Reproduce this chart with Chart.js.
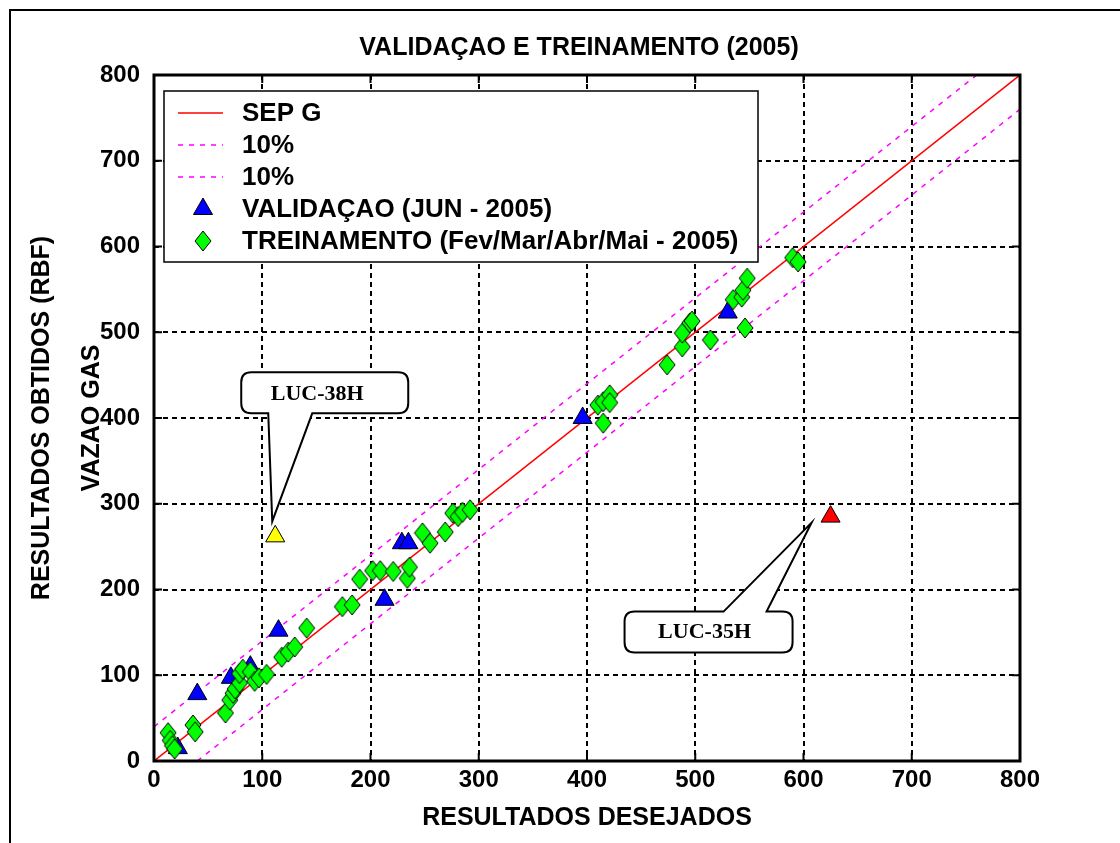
<!DOCTYPE html>
<html>
<head>
<meta charset="utf-8">
<script src="https://cdn.jsdelivr.net/npm/chart.js@4.4.1/dist/chart.umd.min.js"></script>
<style>
  html, body { margin: 0; padding: 0; background: #fff; }
  canvas { display: block; }
</style>
</head>
<body>
<canvas id="c" width="1120" height="843"></canvas>
<script>
// ---- data ----
const chartTitle = 'VALIDAÇAO E TREINAMENTO (2005)';
const xTitle = 'RESULTADOS DESEJADOS';
const yTitle = ['RESULTADOS OBTIDOS (RBF)', 'VAZAO GAS'];

// reference line and the two band limits (x, y pairs of their end points)
const sepX = [0, 800];
const sepY = [0, 800];
const upperX = [0, 760];
const upperY = [40, 800];
const lowerX = [40, 800];
const lowerY = [0, 760];

// validation wells, June 2005
const valX = [22, 40, 71, 89, 115, 213, 229, 235, 396, 530];
const valY = [15, 78, 97, 110, 152, 188, 254, 254, 400, 523];

// training set, Feb-May 2005
const trainX = [13, 15, 17, 19, 36, 38, 66, 70, 73, 75, 79, 79, 82, 89, 93, 97, 104, 118, 124, 130, 141,
                174, 183, 190, 202, 209, 221, 234, 236, 248, 255, 269, 276, 281, 285, 292,
                410, 415, 421, 421, 415,
                474, 488, 488, 495, 497, 514, 535, 543, 544, 548, 546, 590, 595];
const trainY = [33, 24, 18, 14, 42, 34, 56, 71, 79, 84, 91, 102, 107, 104, 93, 97, 101, 121, 127, 133, 155,
                180, 182, 212, 222, 222, 221, 213, 226, 266, 254, 267, 289, 285, 290, 293,
                415, 419, 427, 418, 394,
                462, 483, 499, 511, 513, 491, 538, 541, 549, 563, 505, 587, 582];

// highlighted wells
const luc38X = [112];
const luc38Y = [262];
const luc35X = [625];
const luc35Y = [285];

const xTicks = [0, 100, 200, 300, 400, 500, 600, 700, 800];
const yTicks = [0, 100, 200, 300, 400, 500, 600, 700, 800];

// ---- helpers ----
const SANS = "'Liberation Sans', Arial, sans-serif";
const SERIF = "'Liberation Serif', 'Times New Roman', serif";

const pts = (xs, ys) => xs.map((x, i) => ({ x, y: ys[i] }));

// taller-than-wide diamond marker
function diamondMarker() {
  const c = document.createElement('canvas');
  c.width = 18; c.height = 22;
  const g = c.getContext('2d');
  g.beginPath();
  g.moveTo(9, 1); g.lineTo(17, 11); g.lineTo(9, 21); g.lineTo(1, 11); g.closePath();
  g.fillStyle = '#00ff00'; g.fill();
  g.lineWidth = 1; g.strokeStyle = '#000'; g.stroke();
  return c;
}
const diamond = diamondMarker();

// ---- plugins ----
const pagePlugin = {
  id: 'page',
  beforeDraw(chart) {
    const { ctx, width, height } = chart;
    ctx.save();
    ctx.fillStyle = '#fff';
    ctx.fillRect(0, 0, width, height);
    ctx.strokeStyle = '#000';
    ctx.lineWidth = 2;
    ctx.strokeRect(10, 10, width + 20, height + 20);
    ctx.restore();
  },
  afterDraw(chart) {
    const { ctx, chartArea: ca } = chart;
    ctx.save();
    ctx.fillStyle = '#000';
    ctx.font = `bold 25px ${SANS}`;
    ctx.textAlign = 'center';
    ctx.textBaseline = 'middle';
    ctx.fillText(chartTitle, (ca.left + ca.right) / 2 - 8, 48);
    ctx.restore();
  }
};

const framePlugin = {
  id: 'frame',
  afterDatasetsDraw(chart) {
    const { ctx, chartArea: ca, scales } = chart;
    ctx.save();
    ctx.strokeStyle = '#000';
    ctx.lineWidth = 2;
    const tl = 8;
    ctx.beginPath();
    scales.x.ticks.forEach(t => {
      const px = scales.x.getPixelForValue(t.value);
      ctx.moveTo(px, ca.top); ctx.lineTo(px, ca.top + tl);
      ctx.moveTo(px, ca.bottom); ctx.lineTo(px, ca.bottom - tl);
    });
    scales.y.ticks.forEach(t => {
      const py = scales.y.getPixelForValue(t.value);
      ctx.moveTo(ca.left, py); ctx.lineTo(ca.left + tl, py);
      ctx.moveTo(ca.right, py); ctx.lineTo(ca.right - tl, py);
    });
    ctx.stroke();
    ctx.lineWidth = 3;
    ctx.strokeRect(ca.left, ca.top, ca.right - ca.left, ca.bottom - ca.top);
    ctx.restore();
  }
};

const legendPlugin = {
  id: 'boxLegend',
  afterDatasetsDraw(chart) {
    const { ctx, chartArea: ca } = chart;
    const x0 = ca.left + 10, y0 = ca.top + 16, w = 594, h = 171;
    ctx.save();
    ctx.fillStyle = '#fff';
    ctx.fillRect(x0, y0, w, h);
    ctx.strokeStyle = '#000';
    ctx.lineWidth = 1.5;
    ctx.strokeRect(x0, y0, w, h);
    chart.data.datasets.forEach(ds => {
      if (ds.legendRow === undefined) return;
      const y = y0 + 22 + ds.legendRow * 32;
      if (ds.showLine) {
        ctx.save();
        ctx.strokeStyle = ds.borderColor;
        ctx.lineWidth = ds.borderWidth;
        ctx.setLineDash(ds.borderDash || []);
        ctx.beginPath();
        ctx.moveTo(x0 + 14, y); ctx.lineTo(x0 + 59, y);
        ctx.stroke();
        ctx.restore();
      } else {
        ctx.save();
        ctx.fillStyle = ds.backgroundColor;
        ctx.strokeStyle = ds.borderColor;
        ctx.lineWidth = ds.borderWidth;
        Chart.helpers.drawPoint(ctx, { pointStyle: ds.pointStyle, radius: ds.pointRadius, rotation: 0, borderWidth: ds.borderWidth }, x0 + 39, y);
        ctx.restore();
      }
      ctx.fillStyle = '#000';
      ctx.font = `bold 26px ${SANS}`;
      ctx.textAlign = 'left';
      ctx.textBaseline = 'middle';
      ctx.fillText(ds.label, x0 + 78, y + 1);
    });
    ctx.restore();
  }
};

// rounded callout boxes pointing at the highlighted wells
const calloutPlugin = {
  id: 'callouts',
  afterDraw(chart) {
    const { ctx } = chart;
    chart.data.datasets.forEach((ds, i) => {
      if (!ds.callout) return;
      const p = chart.getDatasetMeta(i).data[0];
      const c = ds.callout;
      const L = p.x + c.box[0], T = p.y + c.box[1], R = p.x + c.box[2], B = p.y + c.box[3];
      const r = 10;
      const onTop = c.side === 'top';
      const a = p.x + c.base[0], bb = p.x + c.base[1];
      const tipX = p.x + c.tip[0], tipY = p.y + c.tip[1];
      ctx.save();
      ctx.beginPath();
      ctx.moveTo(L + r, T);
      if (onTop) {
        ctx.lineTo(a, T); ctx.lineTo(tipX, tipY); ctx.lineTo(bb, T);
      }
      ctx.lineTo(R - r, T);
      ctx.quadraticCurveTo(R, T, R, T + r);
      ctx.lineTo(R, B - r);
      ctx.quadraticCurveTo(R, B, R - r, B);
      if (!onTop) {
        ctx.lineTo(bb, B); ctx.lineTo(tipX, tipY); ctx.lineTo(a, B);
      }
      ctx.lineTo(L + r, B);
      ctx.quadraticCurveTo(L, B, L, B - r);
      ctx.lineTo(L, T + r);
      ctx.quadraticCurveTo(L, T, L + r, T);
      ctx.closePath();
      ctx.fillStyle = '#fff';
      ctx.fill();
      ctx.strokeStyle = '#000';
      ctx.lineWidth = 2;
      ctx.stroke();
      ctx.fillStyle = '#000';
      ctx.font = `bold 22px ${SERIF}`;
      ctx.textAlign = 'center';
      ctx.textBaseline = 'middle';
      ctx.fillText(ds.label, p.x + c.text[0], p.y + c.text[1]);
      ctx.restore();
    });
  }
};

// ---- chart ----
new Chart(document.getElementById('c'), {
  type: 'scatter',
  data: {
    datasets: [
      { label: 'SEP G', data: pts(sepX, sepY), showLine: true, pointRadius: 0,
        borderColor: '#ff0000', borderWidth: 1.5, order: 12, legendRow: 0 },
      { label: '10%', data: pts(upperX, upperY), showLine: true, pointRadius: 0,
        borderColor: '#ff00ff', borderWidth: 1.5, borderDash: [5, 6], order: 11, legendRow: 1 },
      { label: '10%', data: pts(lowerX, lowerY), showLine: true, pointRadius: 0,
        borderColor: '#ff00ff', borderWidth: 1.5, borderDash: [5, 6], order: 10, legendRow: 2 },
      { label: 'VALIDAÇAO (JUN - 2005)', data: pts(valX, valY), pointStyle: 'triangle', pointRadius: 11,
        backgroundColor: '#0000ff', borderColor: '#000', borderWidth: 1, order: 3, legendRow: 3 },
      { label: 'TREINAMENTO (Fev/Mar/Abr/Mai - 2005)', data: pts(trainX, trainY), pointStyle: diamond, pointRadius: 9,
        backgroundColor: '#00ff00', borderColor: '#000', borderWidth: 1, order: 2, legendRow: 4 },
      { label: 'LUC-38H', data: pts(luc38X, luc38Y), pointStyle: 'triangle', pointRadius: 11,
        backgroundColor: '#ffff00', borderColor: '#000', borderWidth: 1, order: 1,
        callout: { side: 'bottom', box: [-34, -164, 133, -123], base: [-7, 37], tip: [-3, -15], text: [42, -142] } },
      { label: 'LUC-35H', data: pts(luc35X, luc35Y), pointStyle: 'triangle', pointRadius: 11,
        backgroundColor: '#ff0000', borderColor: '#000', borderWidth: 1, order: 0,
        callout: { side: 'top', box: [-206, 95, -38, 136], base: [-107, -64], tip: [-19, 6], text: [-126, 116] } }
    ]
  },
  options: {
    responsive: false,
    animation: false,
    events: [],
    devicePixelRatio: 1,
    layout: { padding: { left: 10, top: 75, right: 100, bottom: 0 } },
    plugins: { legend: { display: false }, tooltip: { enabled: false }, title: { display: false } },
    scales: {
      x: {
        type: 'linear', min: 0, max: 800,
        afterBuildTicks: s => { s.ticks = xTicks.map(v => ({ value: v })); },
        afterFit: s => { s.height = 82; },
        ticks: { color: '#000', padding: 5, font: { family: SANS, weight: 'bold', size: 24 } },
        grid: { color: '#000', lineWidth: 2, drawTicks: false },
        border: { display: false, dash: [5, 4] },
        title: { display: true, text: xTitle, color: '#000',
                 font: { family: SANS, weight: 'bold', size: 25, lineHeight: 1.2 }, padding: { top: 0, bottom: 10 } }
      },
      y: {
        type: 'linear', min: 0, max: 800,
        afterBuildTicks: s => { s.ticks = yTicks.map(v => ({ value: v })); },
        afterFit: s => { s.width = 144; },
        ticks: { color: '#000', padding: 14, font: { family: SANS, weight: 'bold', size: 24 } },
        grid: { color: '#000', lineWidth: 2, drawTicks: false },
        border: { display: false, dash: [5, 4] },
        title: { display: true, text: yTitle, color: '#000',
                 font: { family: SANS, weight: 'bold', size: 25, lineHeight: 2 }, padding: { top: 7, bottom: 0 } }
      }
    }
  },
  plugins: [pagePlugin, framePlugin, legendPlugin, calloutPlugin]
});
</script>
</body>
</html>
